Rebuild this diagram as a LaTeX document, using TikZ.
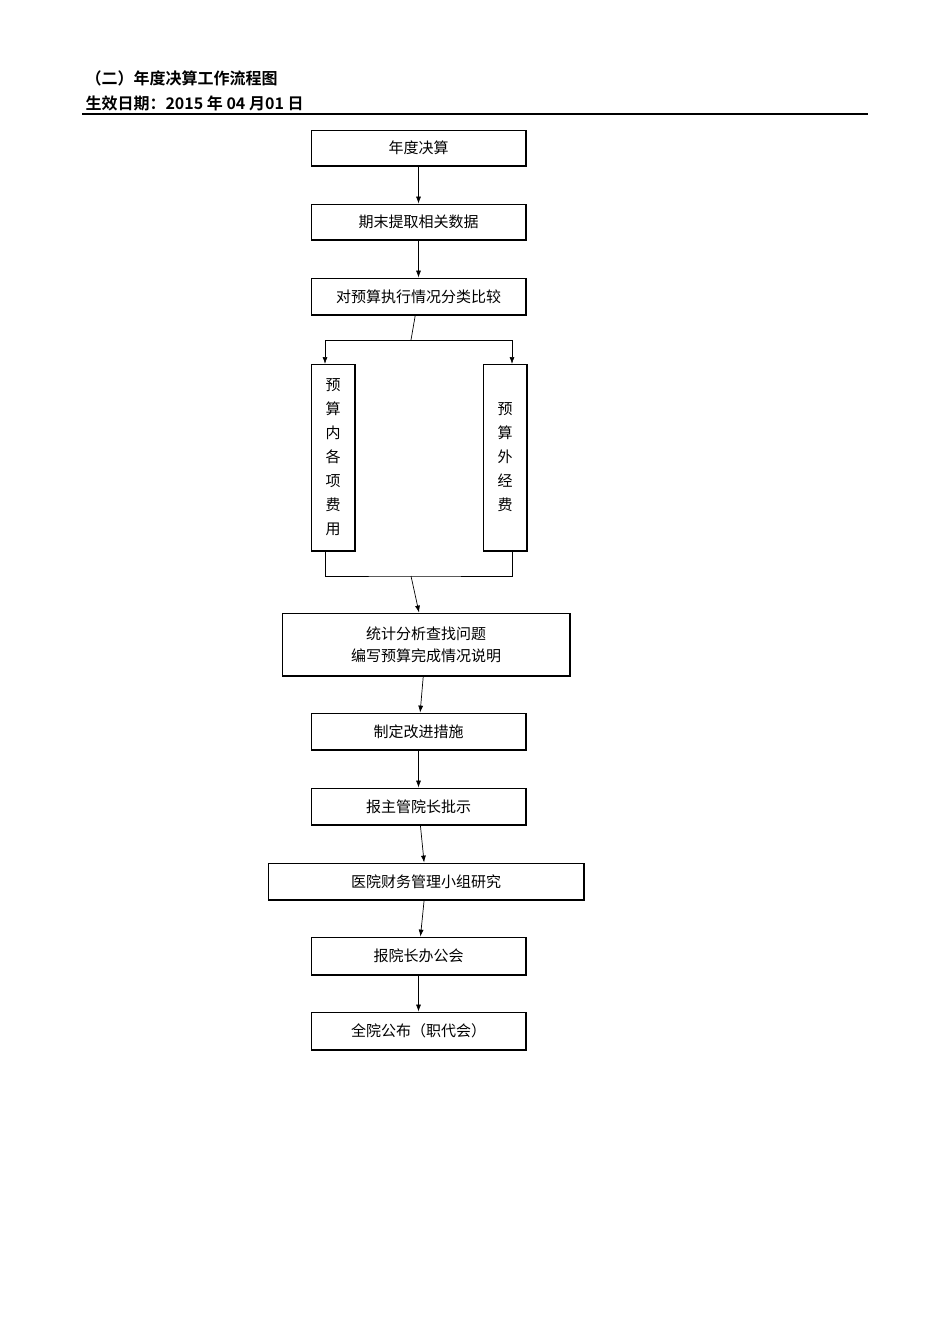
\documentclass[tikz,border=0pt]{standalone}
\usepackage{fontspec}
\setmainfont{Noto Sans CJK SC}
\newfontfamily\hd{Noto Sans CJK SC Bold}
\usetikzlibrary{arrows.meta}
\begin{document}
\begin{tikzpicture}[x=1pt,y=-1pt,
 bx/.style={draw,line width=0.8pt,inner sep=0pt,font=\fontsize{15}{19}\selectfont},
 ar/.style={-{Latex[length=7pt,width=5pt]},line width=0.7pt},
 ln/.style={line width=0.7pt}]
\useasboundingbox (0,0) rectangle (950,1344);
\node[anchor=west,font=\hd\fontsize{16}{18}\selectfont] (t1) at (82,78) {（二）年度决算工作流程图};
\node[anchor=west,font=\hd\fontsize{16}{18}\selectfont] (t2) at (82,103) {生效日期：2015 年 04 月01 日};
\draw[line width=1.4pt] (82,114) -- (868,114);
\newcommand\bb[5]{\draw[line width=1.6pt] (#1+1,#4) -- (#3,#4) -- (#3,#2+1);
 \node[bx,minimum width=#3-#1,minimum height=#4-#2,align=center] (#5) at ({(#1+#3)/2},{(#2+#4)/2})}
\bb{311}{130}{526}{166}{a}{年度决算};
\bb{311}{204}{526}{240}{b}{期末提取相关数据};
\bb{311}{278}{526}{315}{c}{对预算执行情况分类比较};
\bb{311}{364}{355}{551}{l}{预\\[5pt]算\\[5pt]内\\[5pt]各\\[5pt]项\\[5pt]费\\[5pt]用};
\bb{483}{364}{527}{551}{r}{预\\[5pt]算\\[5pt]外\\[5pt]经\\[5pt]费};
\node at (r.north) [yshift=-4pt] {};
\bb{282}{613}{570}{676}{d}{统计分析查找问题\\[3pt]编写预算完成情况说明};
\bb{311}{713}{526}{750}{e}{制定改进措施};
\bb{311}{788}{526}{825}{f}{报主管院长批示};
\bb{268}{863}{584}{900}{g}{医院财务管理小组研究};
\bb{311}{937}{526}{975}{h}{报院长办公会};
\bb{311}{1012}{526}{1050}{i}{全院公布（职代会）};
\draw[ar] (a) -- (b);
\draw[ar] (b) -- (c);
\coordinate (s1) at (411,340);
\coordinate (s2) at (411,576);
\draw[ln] (c) -- (s1);
\draw[ar] (s1) -| (325,364);
\draw[ar] (s1) -| (512,364);
\draw[ln] (325,551) |- (s2) -| (512,551);
\draw[ar] (s2) -- (d);
\draw[ar] (d) -- (e);
\draw[ar] (e) -- (f);
\draw[ar] (f) -- (g);
\draw[ar] (g) -- (h);
\draw[ar] (h) -- (i);
\end{tikzpicture}
\end{document}
